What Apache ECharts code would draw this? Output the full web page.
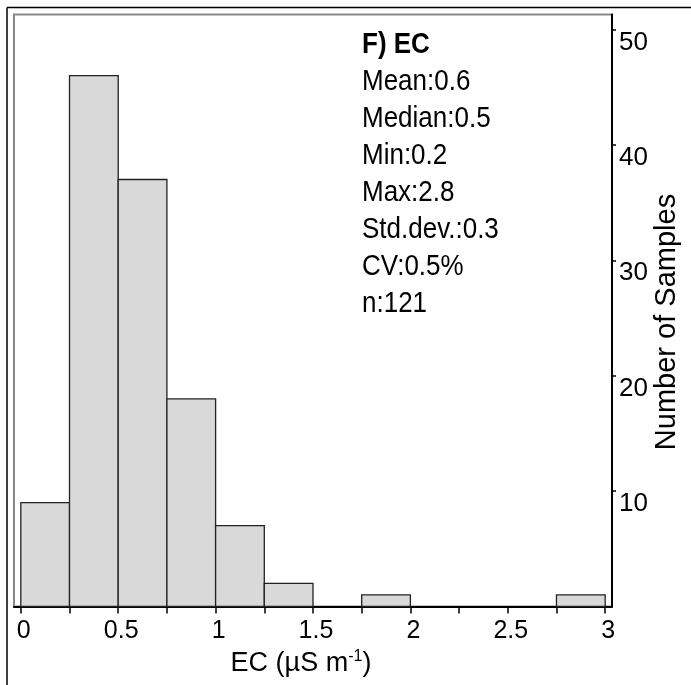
<!DOCTYPE html>
<html>
<head>
<meta charset="utf-8">
<script src="https://cdn.jsdelivr.net/npm/echarts@6/dist/echarts.min.js"></script>
<style>html,body{margin:0;padding:0;background:#fff}#c{width:691px;height:685px}</style>
</head>
<body>
<div id="c"></div>
<script>
// Histogram bins (EC, µS m-1) and counts
var binStarts = [0, 0.25, 0.5, 0.75, 1.0, 1.25, 1.5, 1.75, 2.0, 2.25, 2.5, 2.75];
var binWidth = 0.25;
var counts = [9, 46, 37, 18, 7, 2, 0, 1, 0, 0, 0, 1];
var xTickLabels = [0, 0.5, 1, 1.5, 2, 2.5, 3];
var xMinorTicks = [0, 0.25, 0.5, 0.75, 1, 1.25, 1.5, 1.75, 2, 2.25, 2.5, 2.75, 3];
var yTickLabels = [10, 20, 30, 40, 50];
var statsTitle = 'F) EC';
var statsLines = ['Mean:0.6', 'Median:0.5', 'Min:0.2', 'Max:2.8', 'Std.dev.:0.3', 'CV:0.5%', 'n:121'];

var FONT = '"Liberation Sans", Arial, sans-serif';
var chart = echarts.init(document.getElementById('c'), null, {renderer: 'canvas'});

var data = binStarts.map(function (s, i) { return [s, s + binWidth, counts[i]]; });

var graphics = [
  {type: 'line', shape: {x1: 7, y1: 7.5, x2: 691, y2: 7.5}, style: {stroke: '#000', lineWidth: 1.5}, z: 10},
  {type: 'line', shape: {x1: 7, y1: 7.5, x2: 7, y2: 685}, style: {stroke: '#000', lineWidth: 1.5}, z: 10},
  {type: 'text', x: 362, y: 45, scaleY: 1.12, originX: 0, originY: 0,
   style: {text: statsTitle, font: 'bold 26px ' + FONT, fill: '#000', verticalAlign: 'middle'}},
  {type: 'text', x: 667, y: 322, rotation: Math.PI / 2,
   style: {text: 'Number of Samples', font: '29px ' + FONT, fill: '#000', align: 'center', verticalAlign: 'middle'}}
];
statsLines.forEach(function (t, i) {
  var yy = 82 + i * 37;
  graphics.push({type: 'text', x: 362, y: yy, scaleY: 1.12, originX: 0, originY: 0,
    style: {text: t, font: '26px ' + FONT, fill: '#000', verticalAlign: 'middle'}});
});

chart.setOption({
  animation: false,
  backgroundColor: '#fff',
  grid: {left: 14, right: 79, top: 14.5, bottom: 78.5, show: true, borderColor: '#888', borderWidth: 2, backgroundColor: 'transparent'},
  xAxis: {
    type: 'value', min: -0.035, max: 3.035,
    name: '{a|EC (µS m}{s|-1}{a|)}',
    nameLocation: 'middle', nameGap: 42,
    nameTextStyle: {padding: [0, 24, 0, 0], rich: {a: {fontSize: 27, fontFamily: FONT, color: '#000', verticalAlign: 'bottom'}, s: {fontSize: 16, fontFamily: FONT, color: '#000', verticalAlign: 'top', padding: [0, 0, 13, 0]}}},
    axisLine: {show: true, onZero: false, lineStyle: {color: '#000', width: 2}},
    axisTick: {show: true, length: 7, customValues: xMinorTicks, lineStyle: {color: '#000', width: 1.5}},
    axisLabel: {customValues: xTickLabels, fontSize: 25, fontFamily: FONT, color: '#000', margin: 12, padding: [0, 0, 0, 6]},
    splitLine: {show: false}
  },
  yAxis: {
    type: 'value', position: 'right', min: 0, max: 51.3,
    axisLine: {show: true, onZero: false, lineStyle: {color: '#000', width: 2}},
    axisTick: {show: true, length: 4, customValues: yTickLabels, lineStyle: {color: '#000', width: 1.5}},
    axisLabel: {customValues: yTickLabels, fontSize: 26, fontFamily: FONT, color: '#000', margin: 7, verticalAlign: 'top'},
    splitLine: {show: false}
  },
  series: [{
    type: 'custom',
    data: data,
    encode: {x: [0, 1], y: 2},
    renderItem: function (params, api) {
      var c = api.value(2);
      if (!c) return null;
      var p0 = api.coord([api.value(0), c]);
      var p1 = api.coord([api.value(1), 0]);
      return {
        type: 'rect',
        shape: {x: p0[0], y: p0[1], width: p1[0] - p0[0], height: p1[1] - p0[1]},
        style: {fill: '#d9d9d9', stroke: '#222', lineWidth: 1.3}
      };
    }
  }],
  graphic: graphics
});
</script>
</body>
</html>
